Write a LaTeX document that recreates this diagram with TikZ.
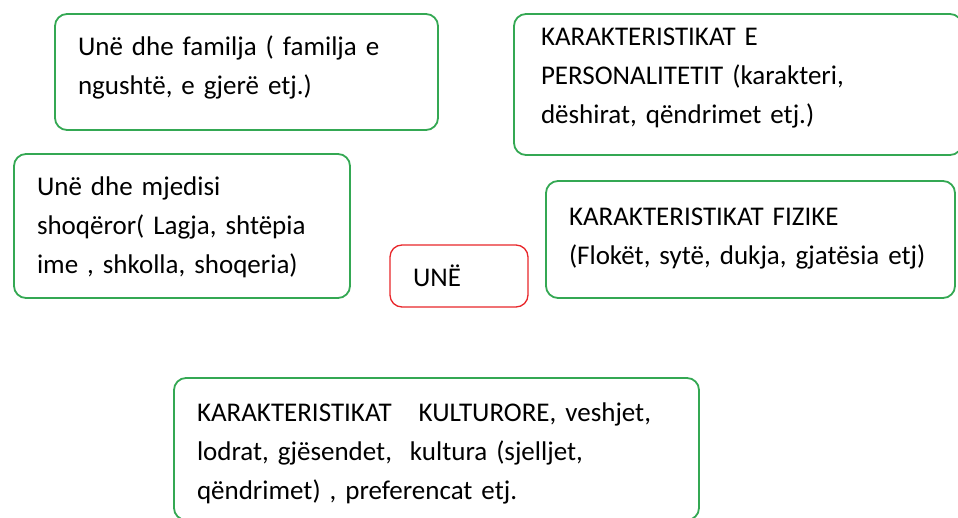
\documentclass[tikz,border=0pt]{standalone}
\usepackage{fontspec}
\setmainfont{Carlito}[WordSpace=0.8]
\definecolor{boxgreen}{RGB}{52,168,83}
\definecolor{boxred}{RGB}{232,38,42}
\begin{document}
\begin{tikzpicture}[x=1pt,y=-1pt,
    box/.style={draw=boxgreen,line width=1.8pt,rounded corners=12pt,
        inner xsep=23pt,inner ysep=0pt,align=left,
        font=\fontsize{27}{39}\selectfont},
    unebox/.style={box,draw=boxred,line width=1.3pt}]
    \useasboundingbox (0,0) rectangle (958,518);

    \node[box,minimum width=383,minimum height=116,text width=337] (familja) at (246.5,72)
        {Unë dhe familja ( familja e\\ngushtë, e gjerë etj.)\vspace{10pt}};
    \node[box,inner xsep=27pt,minimum width=448,minimum height=141,text width=394] (personaliteti) at (738,84.5)
        {KARAKTERISTIKAT E\\PERSONALITETIT (karakteri,\\dëshirat, qëndrimet etj.)\vspace{12pt}};
    \node[box,minimum width=336,minimum height=144,text width=290] (mjedisi) at (182,226)
        {Unë dhe mjedisi\\shoqëror( Lagja, shtëpia\\ime , shkolla, shoqeria)\vspace{-2pt}};
    \node[unebox,minimum width=138,minimum height=62,text width=92] (une) at (459,276)
        {UNË};
    \node[box,minimum width=409,minimum height=117,text width=363] (fizike) at (750.5,239.5)
        {KARAKTERISTIKAT FIZIKE\\(Flokët, sytë, dukja, gjatësia etj)\vspace{2pt}};
    \node[box,minimum width=525,minimum height=142,text width=479] (kulturore) at (436.5,449)
        {KARAKTERISTIKAT\ \ \ KULTURORE, veshjet,\\lodrat, gjësendet,\ \ kultura (sjelljet,\\qëndrimet) , preferencat etj.\vspace{-8pt}};
\end{tikzpicture}
\end{document}
